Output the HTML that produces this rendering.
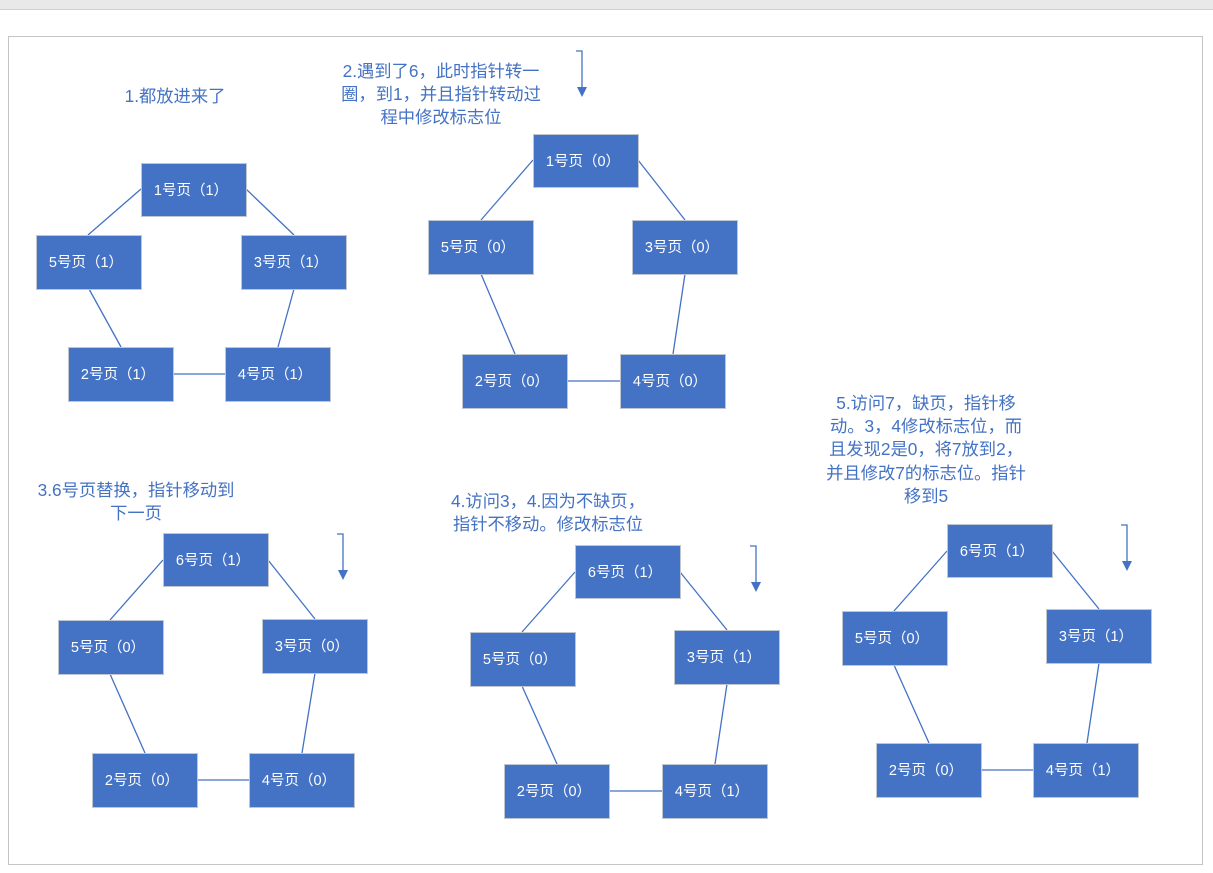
<!DOCTYPE html>
<html><head><meta charset="utf-8"><style>
html,body{margin:0;padding:0;background:#fff;width:1213px;height:873px;overflow:hidden}
svg text{font-family:"Liberation Sans","Noto Sans CJK SC",sans-serif}
.b{fill:#4472C4;stroke:#c0c6d0;stroke-width:1}
.t{fill:#fff;font-size:14.5px;text-anchor:middle}
.l{stroke:#4472C4;stroke-width:1.3;fill:none}
.h{fill:#4472C4;font-size:17.3px;text-anchor:middle}
</style></head><body>
<svg width="1213" height="873" viewBox="0 0 1213 873" xmlns="http://www.w3.org/2000/svg">
<rect x="0" y="0" width="1213" height="9" fill="#e9e9e9"/>
<line x1="0" y1="9.5" x2="1213" y2="9.5" stroke="#cfcfcf"/>
<rect x="8.5" y="36.5" width="1194" height="828" fill="none" stroke="#c4c4c4"/>

<!-- Diagram 1 -->
<text class="h" x="175" y="102">1.都放进来了</text>
<g>
<line class="l" x1="141" y1="189" x2="88" y2="235"/>
<line class="l" x1="246" y1="189" x2="294" y2="235"/>
<line class="l" x1="89" y1="289" x2="121" y2="347"/>
<line class="l" x1="294" y1="289" x2="278" y2="347"/>
<line class="l" x1="173" y1="374" x2="225" y2="374"/>
<rect class="b" x="141.5" y="163.5" width="105" height="53"/><text class="t" x="191" y="195">1号页（1）</text>
<rect class="b" x="36.5" y="235.5" width="105" height="54"/><text class="t" x="86" y="267">5号页（1）</text>
<rect class="b" x="241.5" y="235.5" width="105" height="54"/><text class="t" x="291" y="267">3号页（1）</text>
<rect class="b" x="68.5" y="347.5" width="105" height="54"/><text class="t" x="118" y="379">2号页（1）</text>
<rect class="b" x="225.5" y="347.5" width="105" height="54"/><text class="t" x="275" y="379">4号页（1）</text>
</g>

<!-- Diagram 2 -->
<text class="h" x="441" y="77">2.遇到了6，此时指针转一</text>
<text class="h" x="441" y="100">圈，到1，并且指针转动过</text>
<text class="h" x="441" y="123">程中修改标志位</text>
<path class="l" d="M576 51 H582 V88"/><polygon points="577,87 587,87 582,97" fill="#4472C4"/>
<g>
<line class="l" x1="533" y1="160" x2="481" y2="220"/>
<line class="l" x1="638" y1="160" x2="685" y2="220"/>
<line class="l" x1="481" y1="274" x2="515" y2="354"/>
<line class="l" x1="685" y1="274" x2="673" y2="354"/>
<line class="l" x1="567" y1="381" x2="620" y2="381"/>
<rect class="b" x="533.5" y="134.5" width="105" height="53"/><text class="t" x="583" y="166">1号页（0）</text>
<rect class="b" x="428.5" y="220.5" width="105" height="54"/><text class="t" x="478" y="252">5号页（0）</text>
<rect class="b" x="632.5" y="220.5" width="105" height="54"/><text class="t" x="682" y="252">3号页（0）</text>
<rect class="b" x="462.5" y="354.5" width="105" height="54"/><text class="t" x="512" y="386">2号页（0）</text>
<rect class="b" x="620.5" y="354.5" width="105" height="54"/><text class="t" x="670" y="386">4号页（0）</text>
</g>

<!-- Diagram 3 -->
<text class="h" x="136" y="496">3.6号页替换，指针移动到</text>
<text class="h" x="136" y="519">下一页</text>
<path class="l" d="M337 534 H343 V571"/><polygon points="338,570 348,570 343,580" fill="#4472C4"/>
<g>
<line class="l" x1="163" y1="560" x2="110" y2="620"/>
<line class="l" x1="268" y1="560" x2="315" y2="619"/>
<line class="l" x1="110" y1="674" x2="145" y2="753"/>
<line class="l" x1="315" y1="673" x2="302" y2="753"/>
<line class="l" x1="197" y1="780" x2="249" y2="780"/>
<rect class="b" x="163.5" y="533.5" width="105" height="53"/><text class="t" x="213" y="565">6号页（1）</text>
<rect class="b" x="58.5" y="620.5" width="105" height="54"/><text class="t" x="108" y="652">5号页（0）</text>
<rect class="b" x="262.5" y="619.5" width="105" height="54"/><text class="t" x="312" y="651">3号页（0）</text>
<rect class="b" x="92.5" y="753.5" width="105" height="54"/><text class="t" x="142" y="785">2号页（0）</text>
<rect class="b" x="249.5" y="753.5" width="105" height="54"/><text class="t" x="299" y="785">4号页（0）</text>
</g>

<!-- Diagram 4 -->
<text class="h" x="548" y="507">4.访问3，4.因为不缺页，</text>
<text class="h" x="548" y="530">指针不移动。修改标志位</text>
<path class="l" d="M750 546 H756 V583"/><polygon points="751,582 761,582 756,592" fill="#4472C4"/>
<g>
<line class="l" x1="575" y1="572" x2="522" y2="632"/>
<line class="l" x1="680" y1="572" x2="727" y2="630"/>
<line class="l" x1="522" y1="686" x2="557" y2="764"/>
<line class="l" x1="727" y1="684" x2="715" y2="764"/>
<line class="l" x1="609" y1="791" x2="662" y2="791"/>
<rect class="b" x="575.5" y="545.5" width="105" height="53"/><text class="t" x="625" y="577">6号页（1）</text>
<rect class="b" x="470.5" y="632.5" width="105" height="54"/><text class="t" x="520" y="664">5号页（0）</text>
<rect class="b" x="674.5" y="630.5" width="105" height="54"/><text class="t" x="724" y="662">3号页（1）</text>
<rect class="b" x="504.5" y="764.5" width="105" height="54"/><text class="t" x="554" y="796">2号页（0）</text>
<rect class="b" x="662.5" y="764.5" width="105" height="54"/><text class="t" x="712" y="796">4号页（1）</text>
</g>

<!-- Diagram 5 -->
<text class="h" x="926" y="409">5.访问7，缺页，指针移</text>
<text class="h" x="926" y="432">动。3，4修改标志位，而</text>
<text class="h" x="926" y="455">且发现2是0，将7放到2，</text>
<text class="h" x="926" y="479">并且修改7的标志位。指针</text>
<text class="h" x="926" y="502">移到5</text>
<path class="l" d="M1121 525 H1127 V562"/><polygon points="1122,561 1132,561 1127,571" fill="#4472C4"/>
<g>
<line class="l" x1="947" y1="551" x2="894" y2="611"/>
<line class="l" x1="1052" y1="551" x2="1099" y2="609"/>
<line class="l" x1="894" y1="665" x2="929" y2="743"/>
<line class="l" x1="1099" y1="663" x2="1087" y2="743"/>
<line class="l" x1="981" y1="770" x2="1033" y2="770"/>
<rect class="b" x="947.5" y="524.5" width="105" height="53"/><text class="t" x="997" y="556">6号页（1）</text>
<rect class="b" x="842.5" y="611.5" width="105" height="54"/><text class="t" x="892" y="643">5号页（0）</text>
<rect class="b" x="1046.5" y="609.5" width="105" height="54"/><text class="t" x="1096" y="641">3号页（1）</text>
<rect class="b" x="876.5" y="743.5" width="105" height="54"/><text class="t" x="926" y="775">2号页（0）</text>
<rect class="b" x="1033.5" y="743.5" width="105" height="54"/><text class="t" x="1083" y="775">4号页（1）</text>
</g>
</svg>
</body></html>
